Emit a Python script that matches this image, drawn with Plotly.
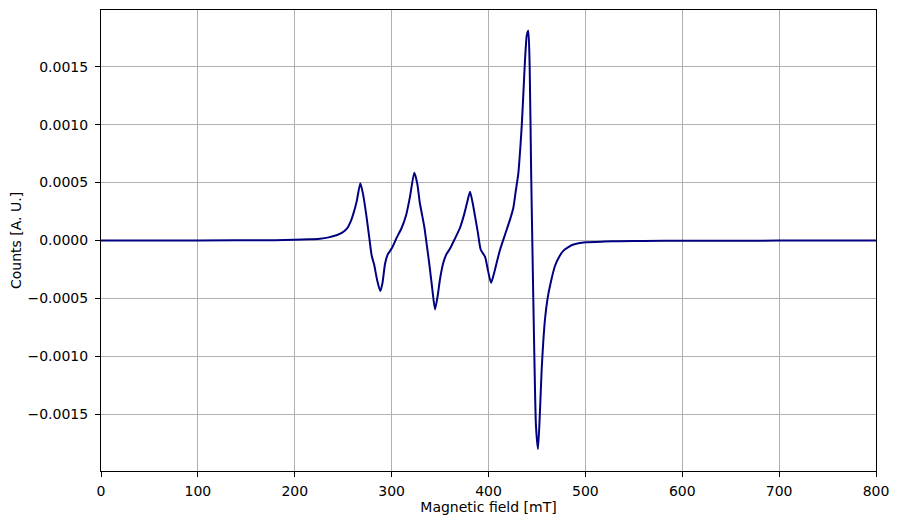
import plotly.graph_objects as go

# magnetic field [mT] and signal
field = [0, 100, 180, 200, 215, 226, 235, 243, 249, 254, 258, 261, 264, 267.7,
         270.5, 274, 277, 279.4, 282, 285, 288.3, 290.5, 293.2, 296, 300, 305,
         310.4, 315, 319, 323.4, 326.5, 329, 331, 333.7, 336, 339, 342, 344.8,
         347.5, 350, 353.4, 356.5, 360.3, 365, 370.6, 375, 378, 380.9, 383.5,
         386.1, 389, 392, 396.4, 399.5, 402.6, 405.5, 408.5, 411.9, 417, 422.2,
         425.6, 428, 430.8, 433, 434.3, 436, 437.7, 439.5, 441.1, 442.5, 444,
         445.2, 447, 449, 451.1, 453, 454.9, 456.5, 458.3, 461, 463.5, 468.6,
         473, 477.2, 482, 487.6, 500.3, 520, 535.7, 560, 600, 700, 800]
counts = [0, 0.0000005, 0.000003, 0.000006, 0.000010, 0.000016, 0.000027,
          0.000045, 0.000068, 0.000105, 0.00017, 0.000245, 0.00034, 0.000495,
          0.00040, 0.00021, 0.00002, -0.00013, -0.00021, -0.00034, -0.000437,
          -0.00037, -0.00020, -0.00012, -0.00007, 0.00002, 0.00011, 0.00022,
          0.00038, 0.000585, 0.00049, 0.00033, 0.00024, 0.00012, -0.00002,
          -0.00021, -0.00042, -0.000595, -0.00048, -0.00033, -0.00019,
          -0.00012, -0.00007, 0.00001, 0.00011, 0.00023, 0.00033, 0.00042,
          0.00033, 0.00021, 0.00007, -0.00008, -0.00014, -0.00026, -0.000365,
          -0.00029, -0.00019, -0.00008, 0.00005, 0.00018, 0.00028, 0.00042,
          0.00058, 0.00082, 0.00099, 0.00127, 0.00156, 0.00177, 0.00181,
          0.00150, 0.00060, 0.0, -0.00085, -0.00160, -0.00180, -0.00150,
          -0.00111, -0.00088, -0.00068, -0.00050, -0.00039, -0.00022, -0.00014,
          -0.00009, -0.00006, -0.000035, -0.000015, -0.000009, -0.000006,
          -0.000004, -0.0000025, -0.000001, -0.0000005]

fig = go.Figure()
fig.add_trace(go.Scatter(x=field, y=counts, mode="lines",
    line=dict(color="#000080", width=2, shape="spline", smoothing=0.6)))

fig.update_xaxes(title=dict(text="Magnetic field [mT]", font_size=14, standoff=4),
    range=[0, 800],
    dtick=100,
    tickfont_size=14,
    ticklabelstandoff=2,
    showgrid=True, gridcolor="#b0b0b0", gridwidth=1,
    showline=True, linecolor="black", mirror=True,
    ticks="outside", ticklen=5, tickcolor="black",
    zeroline=False)

fig.update_yaxes(title=dict(text="Counts [A. U.]", font_size=14, standoff=8),
    range=[-0.00199, 0.00199],
    tickvals=[-0.0015, -0.001, -0.0005, 0, 0.0005, 0.001, 0.0015],
    tickformat=".4f",
    tickfont_size=14,
    ticklabelstandoff=4,
    showgrid=True, gridcolor="#b0b0b0", gridwidth=1,
    showline=True, linecolor="black", mirror=True,
    ticks="outside", ticklen=5, tickcolor="black",
    zeroline=False)

fig.update_layout(
    width=899, height=525,
    margin=dict(l=93, r=31, t=2, b=62),
    plot_bgcolor="white", paper_bgcolor="white",
    font=dict(family="DejaVu Sans", size=14, color="black"),
    showlegend=False)

fig.write_html("out.html")
